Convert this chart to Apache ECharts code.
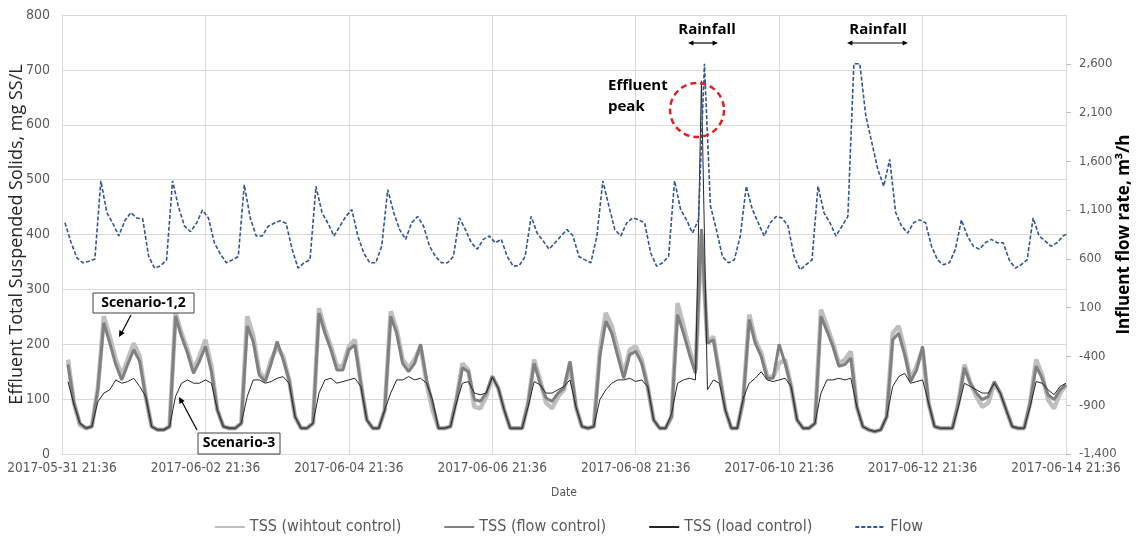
<!DOCTYPE html>
<html>
<head>
<meta charset="utf-8">
<script src="https://cdn.jsdelivr.net/npm/echarts@6/dist/echarts.min.js"></script>
<style>html,body{margin:0;padding:0;background:#fff}#c{width:1137px;height:542px}</style>
</head>
<body>
<div id="c"></div>
<script>
// ---- DATA ----
const xTickLabels = ['2017-05-31 21:36','2017-06-02 21:36','2017-06-04 21:36','2017-06-06 21:36',
  '2017-06-08 21:36','2017-06-10 21:36','2017-06-12 21:36','2017-06-14 21:36'];
const stepHours = 2;          // sampling step (hours)
const flowStartHour = 1;      // flow samples at hours 1,3,5,...
const tssStartHour = 2;       // TSS samples at hours 2,4,6,...

// Influent flow rate, m3/h
const flow = [
  970, 770, 610, 560, 575, 600, 1400, 1075, 965, 835, 990, 1075,
  1020, 1010, 625, 505, 530, 590, 1400, 1130, 935, 880, 965, 1100,
  1020, 765, 650, 560, 590, 625, 1360, 1020, 835, 835, 935, 965,
  990, 965, 700, 505, 560, 590, 1345, 1075, 965, 835, 935, 1035,
  1105, 835, 660, 560, 560, 730, 1310, 1075, 900, 800, 970, 1035,
  935, 730, 625, 560, 560, 625, 1020, 900, 765, 700, 800, 835,
  765, 800, 625, 525, 530, 625, 1035, 865, 785, 700, 765, 835,
  900, 835, 625, 590, 560, 835, 1400, 1145, 900, 835, 970, 1020,
  1000, 970, 660, 525, 560, 625, 1400, 1110, 1000, 865, 1000, 2600,
  1145, 900, 625, 560, 590, 835, 1345, 1110, 970, 835, 970, 1035,
  1020, 935, 625, 490, 540, 590, 1345, 1075, 970, 835, 935, 1035,
  2600, 2600, 2065, 1795, 1520, 1345, 1620, 1075, 935, 865, 970, 1000,
  970, 730, 590, 540, 560, 700, 1000, 835, 730, 700, 765, 800,
  765, 765, 590, 505, 540, 590, 1020, 835, 785, 730, 765, 835,
  865
];

// Effluent TSS, mg SS/L
const tssWithoutControl = [
  172, 93, 53, 47, 50, 120, 251, 214, 172, 144, 172, 202,
  178, 105, 50, 44, 44, 50, 257, 220, 190, 153, 178, 208,
  160, 80, 50, 47, 47, 56, 251, 215, 150, 135, 172, 196,
  178, 135, 68, 47, 47, 56, 266, 227, 196, 160, 160, 196,
  208, 129, 62, 47, 47, 80, 260, 227, 172, 157, 172, 196,
  129, 80, 47, 47, 50, 99, 165, 153, 86, 83, 105, 140,
  120, 80, 47, 47, 47, 93, 172, 135, 93, 83, 105, 117,
  165, 86, 50, 47, 50, 190, 257, 233, 190, 144, 190, 196,
  172, 123, 62, 47, 47, 68, 275, 233, 190, 153, 400, 202,
  214, 147, 80, 47, 47, 99, 254, 208, 184, 141, 141, 165,
  172, 123, 62, 47, 47, 56, 263, 233, 202, 165, 172, 187,
  86, 50, 44, 41, 44, 68, 220, 233, 190, 135, 160, 190,
  93, 50, 47, 47, 47, 93, 163, 129, 105, 86, 93, 129,
  111, 80, 50, 47, 47, 93, 172, 144, 99, 83, 111, 126
];
const tssFlowControl = [
  163, 93, 56, 47, 50, 118, 239, 202, 163, 135, 163, 190,
  169, 105, 50, 44, 44, 50, 251, 214, 184, 147, 169, 196,
  150, 80, 50, 47, 47, 56, 233, 205, 144, 132, 165, 205,
  172, 135, 68, 47, 47, 56, 257, 220, 190, 153, 153, 190,
  199, 129, 62, 47, 47, 80, 251, 220, 165, 150, 165, 200,
  135, 93, 47, 47, 50, 99, 157, 150, 99, 96, 111, 142,
  120, 80, 47, 47, 47, 93, 165, 129, 102, 96, 111, 120,
  169, 86, 50, 47, 50, 178, 242, 220, 178, 138, 181, 187,
  165, 123, 62, 47, 47, 68, 254, 220, 181, 147, 410, 202,
  208, 144, 80, 47, 47, 99, 245, 202, 178, 138, 138, 200,
  165, 123, 62, 47, 47, 56, 251, 224, 196, 160, 163, 175,
  86, 50, 44, 41, 44, 68, 208, 220, 181, 132, 153, 196,
  93, 50, 47, 47, 47, 93, 157, 129, 111, 99, 105, 132,
  111, 80, 50, 47, 47, 93, 160, 138, 108, 99, 117, 126
];
const tssLoadControl = [
  132, 90, 56, 47, 50, 95, 111, 117, 135, 129, 132, 138,
  123, 105, 50, 44, 44, 50, 105, 129, 135, 129, 129, 135,
  129, 80, 50, 47, 47, 56, 105, 135, 135, 129, 132, 138,
  141, 129, 68, 47, 47, 56, 111, 135, 138, 129, 132, 135,
  138, 123, 62, 47, 47, 80, 111, 135, 135, 141, 135, 138,
  129, 99, 47, 47, 50, 93, 129, 132, 111, 108, 111, 140,
  120, 80, 47, 47, 47, 86, 132, 126, 111, 111, 117, 123,
  135, 86, 50, 47, 50, 99, 117, 129, 135, 135, 138, 132,
  135, 123, 62, 47, 47, 74, 129, 135, 138, 135, 680, 117,
  135, 129, 80, 47, 47, 102, 129, 138, 150, 135, 132, 135,
  138, 123, 62, 47, 47, 56, 111, 135, 135, 138, 135, 138,
  86, 50, 44, 41, 44, 68, 123, 141, 147, 129, 132, 135,
  93, 50, 47, 47, 47, 86, 129, 123, 117, 111, 111, 129,
  111, 80, 50, 47, 47, 86, 132, 129, 117, 108, 123, 129
];
const seriesNames = ['TSS (wihtout control)', 'TSS (flow control)', 'TSS (load control)', 'Flow'];

// ---- CHART ----
const toPairs = (arr, start) => arr.map((v, i) => [start + i * stepHours, v]);
const FONT = "'Liberation Sans Narrow','DejaVu Sans Condensed','Roboto',sans-serif";
const chart = echarts.init(document.getElementById('c'), null, {renderer: 'canvas'});

function arrowHead(x1, y1, x2, y2, size) {
  const a = Math.atan2(y2 - y1, x2 - x1);
  const s = size || 7, w = 0.45;
  return {
    type: 'polygon',
    shape: {points: [[x2, y2],
      [x2 - s * Math.cos(a - w), y2 - s * Math.sin(a - w)],
      [x2 - s * Math.cos(a + w), y2 - s * Math.sin(a + w)]]},
    style: {fill: '#000'}, z: 100
  };
}
function line(x1, y1, x2, y2, w) {
  return {type: 'line', shape: {x1, y1, x2, y2}, style: {stroke: '#000', lineWidth: w || 1.2}, z: 100};
}
const boldText = (x, y, t, align, size) => ({
  type: 'text', x, y, z: 101,
  style: {text: t, fill: '#000', font: 'bold ' + (size || 15) + "px 'Open Sans',sans-serif",
    textAlign: align || 'center', textVerticalAlign: 'middle', lineHeight: 21}
});

const graphics = [
  boldText(707, 30, 'Rainfall'),
  line(690, 43, 716, 43), arrowHead(716, 43, 688, 43, 6), arrowHead(690, 43, 718, 43, 6),
  boldText(878, 30, 'Rainfall'),
  line(850, 43, 905, 43), arrowHead(905, 43, 847, 43, 6), arrowHead(850, 43, 908, 43, 6),
  boldText(608, 96, 'Effluent\npeak', 'left'),
  {type: 'circle', shape: {cx: 697, cy: 110, r: 27}, z: 100,
   style: {fill: 'none', stroke: '#E31E24', lineWidth: 2.5, lineDash: [6, 4]}},
  {type: 'rect', shape: {x: 93, y: 293, width: 101, height: 20}, z: 100,
   style: {fill: '#fff', stroke: '#404040', lineWidth: 1}},
  boldText(143.5, 303, 'Scenario-1,2', 'center', 14),
  line(131, 315, 121, 334), arrowHead(131, 315, 119, 337, 7),
  {type: 'rect', shape: {x: 198, y: 433, width: 82, height: 21}, z: 100,
   style: {fill: '#fff', stroke: '#404040', lineWidth: 1}},
  boldText(239, 443.5, 'Scenario-3', 'center', 14),
  line(197, 430, 181, 400), arrowHead(197, 430, 179, 397, 7)
];

chart.setOption({
  animation: false,
  backgroundColor: '#fff',
  grid: {left: 62, right: 71, top: 15, bottom: 88, containLabel: false, outerBoundsMode: 'none'},
  legend: {
    bottom: 2, left: 'center', itemGap: 42, itemWidth: 30, itemHeight: 6,
    itemStyle: {opacity: 0},
    textStyle: {fontFamily: FONT, fontSize: 16, color: '#595959'},
    data: seriesNames
  },
  xAxis: {
    type: 'value', min: 0, max: 336, interval: 48,
    name: 'Date', nameLocation: 'middle', nameGap: 33, nameMoveOverlap: false,
    nameTextStyle: {fontFamily: FONT, fontSize: 12, color: '#595959'},
    axisLine: {show: true, lineStyle: {color: '#d9d9d9'}},
    axisTick: {show: false},
    splitLine: {show: true, lineStyle: {color: '#d9d9d9'}},
    axisLabel: {fontFamily: FONT, fontSize: 13.5, color: '#595959', margin: 7,
      showMinLabel: true, showMaxLabel: true,
      formatter: v => xTickLabels[Math.round(v / 48)] || ''}
  },
  yAxis: [{
    type: 'value', min: 0, max: 800, interval: 100,
    name: 'Effluent Total Suspended Solids, mg SS/L', nameLocation: 'middle', nameGap: 36,
    nameMoveOverlap: false,
    nameTextStyle: {fontFamily: "'Open Sans',sans-serif", fontSize: 18, color: '#262626'},
    axisLine: {show: false}, axisTick: {show: false},
    splitLine: {lineStyle: {color: '#d9d9d9'}},
    axisLabel: {fontFamily: FONT, fontSize: 14, color: '#595959', margin: 12}
  }, {
    type: 'value', min: -1400, max: 3100, interval: 500, position: 'right',
    name: 'Influent flow rate, m\u00b3/h', nameLocation: 'middle', nameGap: 50,
    nameMoveOverlap: false,
    nameTextStyle: {fontFamily: "'Open Sans',sans-serif", fontSize: 17, fontWeight: 'bold', color: '#000'},
    axisLine: {show: true, lineStyle: {color: '#d9d9d9'}},
    axisTick: {show: true, length: 5, lineStyle: {color: '#bfbfbf'}},
    splitLine: {show: false},
    axisLabel: {fontFamily: FONT, fontSize: 13, color: '#595959', margin: 13, showMaxLabel: false,
      formatter: v => v.toLocaleString('en-US')}
  }],
  series: [
    {name: seriesNames[0], type: 'line', yAxisIndex: 0, showSymbol: false, symbol: 'none',
     data: toPairs(tssWithoutControl, tssStartHour),
     lineStyle: {color: '#BFBFBF', width: 4.5}, itemStyle: {color: '#BFBFBF'}, z: 2},
    {name: seriesNames[1], type: 'line', yAxisIndex: 0, showSymbol: false, symbol: 'none',
     data: toPairs(tssFlowControl, tssStartHour),
     lineStyle: {color: '#808080', width: 3}, itemStyle: {color: '#808080'}, z: 3},
    {name: seriesNames[2], type: 'line', yAxisIndex: 0, showSymbol: false, symbol: 'none',
     data: toPairs(tssLoadControl, tssStartHour),
     lineStyle: {color: '#262626', width: 1}, itemStyle: {color: '#262626'}, z: 4},
    {name: seriesNames[3], type: 'line', yAxisIndex: 1, showSymbol: false, symbol: 'none',
     data: toPairs(flow, flowStartHour),
     lineStyle: {color: '#2F5597', width: 1.6, type: [4, 2]}, itemStyle: {color: '#2F5597'}, z: 5}
  ],
  graphic: graphics
});
</script>
</body>
</html>
